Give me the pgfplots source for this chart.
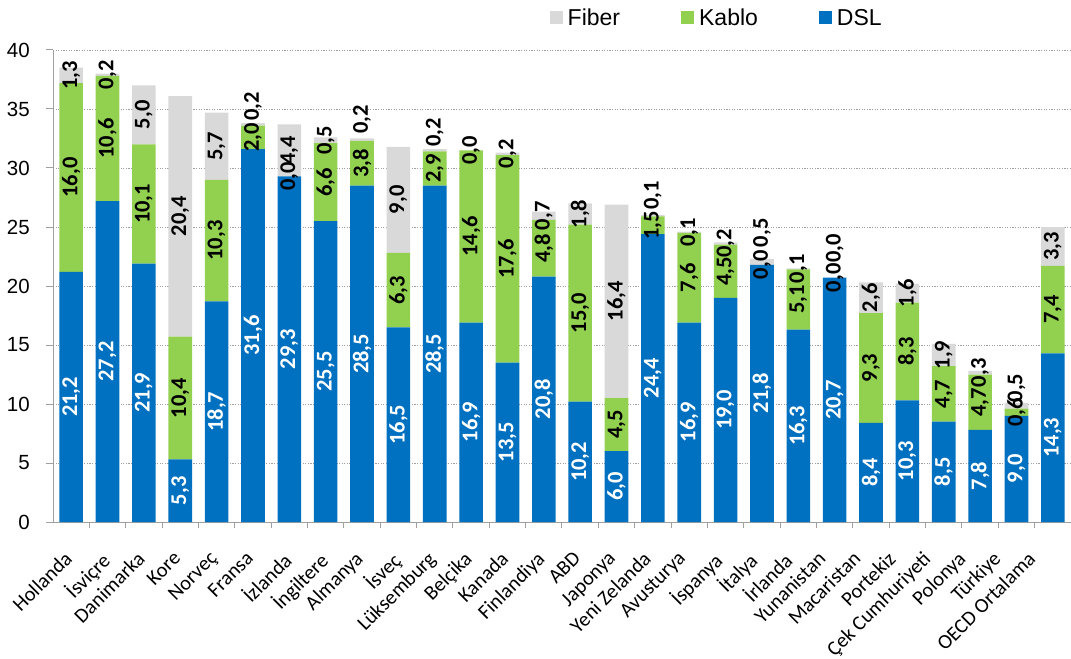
\documentclass[border=0pt]{standalone}
\usepackage{pgfplots}
\pgfplotsset{compat=1.18}
\usepackage{pgfplotstable}
\usepackage{fontspec}
\setmainfont{Liberation Sans}
\newfontfamily\calib{Carlito}
\definecolor{dsl}{HTML}{0070C0}
\definecolor{kablo}{HTML}{92D050}
\definecolor{fiber}{HTML}{D9D9D9}
\definecolor{axgray}{HTML}{A0A0A0}

% fpos: position of the Fiber label where it is pushed above the bar (0 = centred)
\pgfplotstableread{
x dsl kablo fiber fpos
0 21.2 16.0 1.3 0
1 27.2 10.6 0.2 0
2 21.9 10.1 5.0 0
3 5.3 10.4 20.4 0
4 18.7 10.3 5.7 0
5 31.6 2.0 0.2 35.2
6 29.3 0.0 4.4 0
7 25.5 6.6 0.5 0
8 28.5 3.8 0.2 34.1
9 16.5 6.3 9.0 0
10 28.5 2.9 0.2 33.0
11 16.9 14.6 0.0 0
12 13.5 17.6 0.2 0
13 20.8 4.8 0.7 0
14 10.2 15.0 1.8 0
15 6.0 4.5 16.4 0
16 24.4 1.5 0.1 27.7
17 16.9 7.6 0.1 0
18 19.0 4.5 0.2 0
19 21.8 0.0 0.5 24.5
20 16.3 5.1 0.1 0
21 20.7 0.0 0.0 23.2
22 8.4 9.3 2.6 0
23 10.3 8.3 1.6 0
24 8.5 4.7 1.9 0
25 7.8 4.7 0.3 0
26 9.0 0.6 0.5 11.35
27 14.3 7.4 3.3 0
}\data

\pgfplotsset{
  common/.style={
    at={(0bp,0bp)}, anchor=south west,
    scale only axis, width=1018bp, height=472bp,
    xmin=-0.5, xmax=27.5, ymin=0, ymax=40, clip=false,
    /pgf/number format/assume math mode=true,
  },
  sqlegend/.style={legend image code/.code={\fill[##1] (0bp,-6.5bp) rectangle (13bp,6.5bp);}},
}

\begin{document}
\begin{tikzpicture}
\path[use as bounding box] (-53bp,-137bp) rectangle (1018bp,522bp);
\begin{axis}[
  common,
  ybar stacked, bar width=0.65,
  xtick=data,
  xticklabels={Hollanda, İsviçre, Danimarka, Kore, Norveç, Fransa, İzlanda, İngiltere, Almanya, İsveç, Lüksemburg, Belçika, Kanada, Finlandiya, ABD, Japonya, Yeni Zelanda, Avusturya, İspanya, İtalya, İrlanda, Yunanistan, Macaristan, Portekiz, Çek Cumhuriyeti, Polonya, Türkiye, OECD Ortalama},
  ytick={0,5,...,40},
  minor x tick num=1,
  axis x line*=bottom, axis y line*=left,
  axis line style={axgray, line width=1bp},
  tick align=outside,
  major tick length=7bp, minor tick length=6bp,
  major x tick style={draw=none},
  minor x tick style={axgray, line width=1bp},
  major y tick style={axgray, line width=1bp},
  ymajorgrids,
  major grid style={axgray, line width=0.8bp, dash pattern=on 1.2bp off 1.4bp},
  yticklabel style={font=\fontsize{20.5bp}{24bp}\selectfont, inner sep=0bp},
  yticklabel shift=16bp,
  xticklabel style={font=\calib\fontsize{20.5bp}{24bp}\selectfont,
    xshift={(-8-1.4*max(0,\ticknum-14))*1bp}, rotate=45, anchor=north east, inner sep=0bp},
  xticklabel shift=21bp,
  legend style={at={(0.651,1.068)}, anchor=center, draw=none, fill=none,
    legend columns=-1, font=\fontsize{23bp}{26bp}\selectfont,
    nodes={inner sep=0bp},
    /tikz/every even column/.append style={column sep=61bp},
    /tikz/every odd column/.append style={column sep=5bp}},
  reverse legend,
]
\addplot[fill=dsl, draw=none, sqlegend] table[x=x, y=dsl]{\data};
\addplot[fill=kablo, draw=none, sqlegend] table[x=x, y=kablo]{\data};
\addplot[fill=fiber, draw=none, sqlegend] table[x=x, y=fiber]{\data};
\legend{DSL, Kablo, Fiber}
\end{axis}
\begin{axis}[
  common, hide axis,
  point meta=explicit,
  nodes near coords={\pgfmathprintnumber[fixed,fixed zerofill,precision=1,use comma]{\pgfplotspointmeta}},
  every node near coord/.append style={rotate=90, anchor=center, inner sep=0bp,
    font=\calib\bfseries\fontsize{22.5bp}{24bp}\selectfont},
]
\addplot[only marks, mark=text, text mark={},
  every node near coord/.append style={text=white}]
  table[x=x, y expr=\thisrow{dsl}/2, meta=dsl]{\data};
\addplot[only marks, mark=text, text mark={},
  every node near coord/.append style={text=black}]
  table[x=x, y expr=\thisrow{dsl}+\thisrow{kablo}/2, meta=kablo]{\data};
\addplot[only marks, mark=text, text mark={},
  every node near coord/.append style={text=black}]
  table[x=x, y expr={\thisrow{fpos}>0 ? \thisrow{fpos} : \thisrow{dsl}+\thisrow{kablo}+\thisrow{fiber}/2}, meta=fiber]{\data};
\end{axis}
\end{tikzpicture}
\end{document}
